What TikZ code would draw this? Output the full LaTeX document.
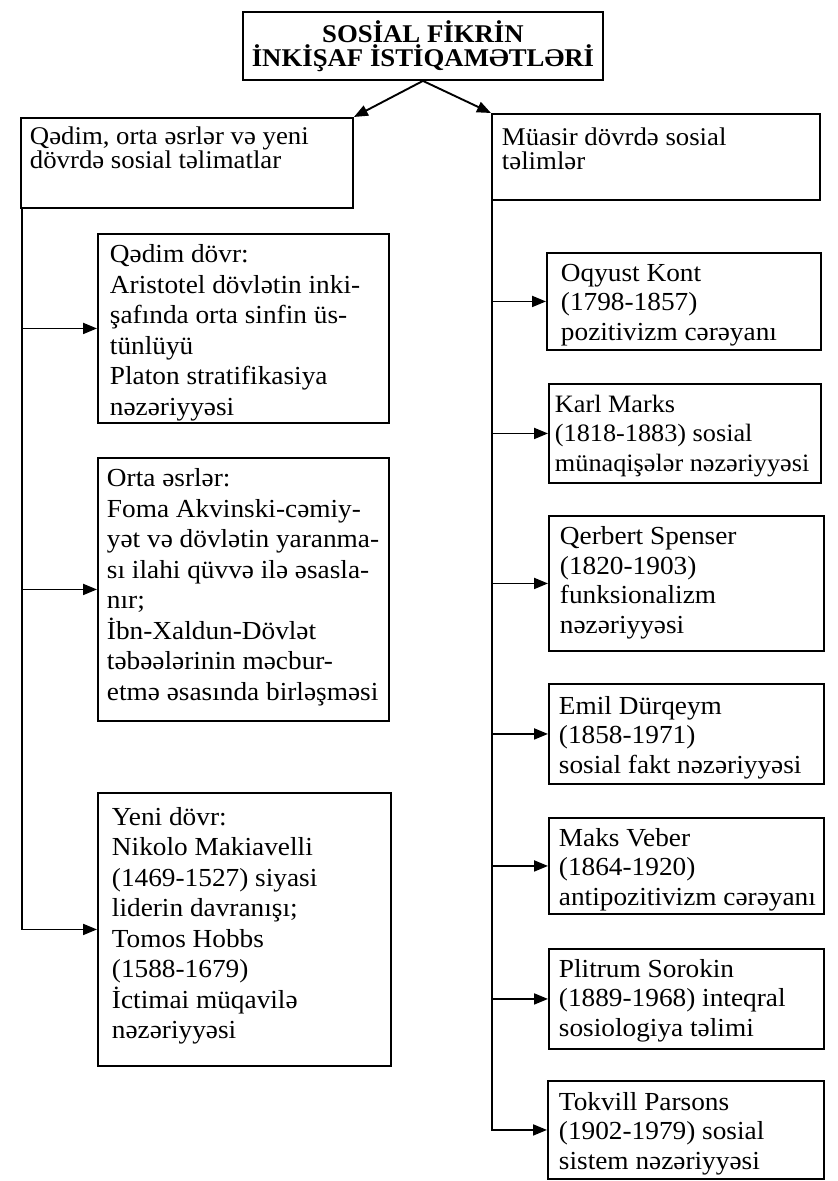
\documentclass[tikz,border=0pt]{standalone}
\usepackage{fontspec}
\setmainfont{Liberation Serif}[FakeStretch=1.05]
\usetikzlibrary{arrows.meta}

\tikzset{
  box/.style={draw, line width=1.9pt, anchor=north west, inner sep=0pt},
  topbox/.style={box, font=\fontsize{25.5}{24}\selectfont},
  itembox/.style={box, font=\fontsize{26}{29.5}\selectfont},
  leftbox/.style={box, font=\fontsize{26}{30.5}\selectfont},
  arr/.style={line width=1.9pt, -{Triangle[length=14pt,width=11pt]}},
}
\newcommand{\bxt}[5]{\parbox[c][#2pt][t]{#1pt}{\lineskiplimit=-\maxdimen\raggedright\leftskip=#3pt\vspace*{#4pt}#5}}

\begin{document}
\begin{tikzpicture}[x=1pt, y=-1pt]
\useasboundingbox (0,0) rectangle (838,1181);
\node[box, font=\bfseries\fontsize{25.5}{24.5}\selectfont] (t) at (242,11)
  {\parbox[c][68pt][c]{360pt}{\lineskiplimit=-\maxdimen\centering SOSİAL FİKRİN\\ İNKİŞAF İSTİQAMƏTLƏRİ}};
\node[topbox] (l0) at (20,117) {\bxt{332}{90}{9}{9}{Qədim, orta əsrlər və yeni\\ dövrdə sosial təlimatlar}};
\node[topbox] (r0) at (491,113) {\bxt{328}{86}{10}{14}{Müasir dövrdə sosial\\ təlimlər}};
\draw[arr] (t.south) -- (l0.north east);
\draw[arr] (t.south) -- (r0.north west);

\node[leftbox] (l1) at (97,233) {\bxt{291}{189}{12}{11}{Qədim dövr:\\ Aristotel dövlətin inki-\\ şafında orta sinfin üs-\\ tünlüyü\\ Platon stratifikasiya\\ nəzəriyyəsi}};
\node[leftbox] (l2) at (97,457) {\bxt{291}{263}{9}{11}{Orta əsrlər:\\ Foma Akvinski-cəmiy-\\ yət və dövlətin yaranma-\\ sı ilahi qüvvə ilə əsasla-\\ nır;\\ İbn-Xaldun-Dövlət\\ təbəələrinin məcbur-\\ etmə əsasında birləşməsi}};
\node[leftbox] (l3) at (97,792) {\bxt{293}{273}{14}{14}{Yeni dövr:\\ Nikolo Makiavelli\\ (1469-1527) siyasi\\ liderin davranışı;\\ Tomos Hobbs\\ (1588-1679)\\ İctimai müqavilə\\ nəzəriyyəsi}};

\node[itembox] (r1) at (546,252) {\bxt{274}{97}{14}{11}{Oqyust Kont\\ (1798-1857)\\ pozitivizm cərəyanı}};
\node[itembox, font=\fontsize{25}{29.5}\selectfont] (r2) at (548,383) {\bxt{272}{99}{6}{11}{Karl Marks\\ (1818-1883) sosial\\ münaqişələr nəzəriyyəsi}};
\node[itembox] (r3) at (548,515) {\bxt{275}{135}{11}{11}{Qerbert Spenser\\ (1820-1903)\\ funksionalizm\\ nəzəriyyəsi}};
\node[itembox] (r4) at (548,683) {\bxt{275}{100}{10}{12}{Emil Dürqeym\\ (1858-1971)\\ sosial fakt nəzəriyyəsi}};
\node[itembox] (r5) at (548,817) {\bxt{275}{96}{10}{10}{Maks Veber\\ (1864-1920)\\ antipozitivizm cərəyanı}};
\node[itembox] (r6) at (548,948) {\bxt{275}{100}{10}{10}{Plitrum Sorokin\\ (1889-1968) inteqral\\ sosiologiya təlimi}};
\node[itembox] (r7) at (547,1080) {\bxt{276}{98}{11}{11}{Tokvill Parsons\\ (1902-1979) sosial\\ sistem nəzəriyyəsi}};

\coordinate (ltop) at ([xshift=2pt]l0.south west);
\coordinate (rtop) at ([xshift=1pt]r0.south west);
\draw[arr] (ltop) |- (l3.west);
\foreach \n in {l1,l2}
  \draw[arr] (ltop |- \n.west) -- (\n.west);
\draw[arr] (rtop) |- (r7.west);
\foreach \n in {r1,r2,r3,r4,r5,r6}
  \draw[arr] (rtop |- \n.west) -- (\n.west);
\end{tikzpicture}
\end{document}
